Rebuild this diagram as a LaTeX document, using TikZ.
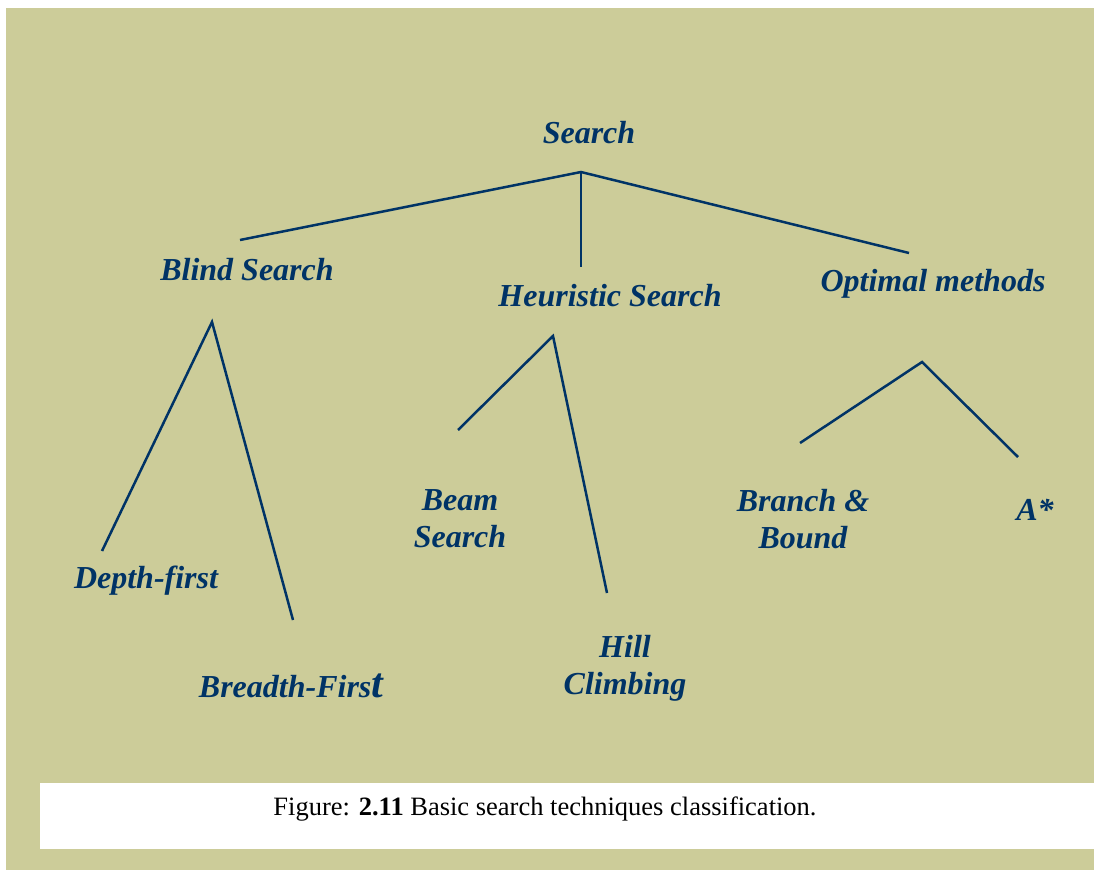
\documentclass[tikz,border=0pt]{standalone}
\usepackage{fontspec}
\setmainfont{Liberation Serif}
\definecolor{panel}{RGB}{204,204,153}
\definecolor{ink}{RGB}{0,51,102}
\begin{document}
\begin{tikzpicture}[x=1pt,y=-1pt,
  lbl/.style={text=ink,font=\bfseries\itshape\fontsize{32}{37}\selectfont,align=center,inner sep=0pt},
  branch/.style={draw=ink,line width=2.5pt},
  capt/.style={text=black,font=\fontsize{26.5}{30}\selectfont,inner sep=0pt}]
  % page, panel and caption strip
  \useasboundingbox (0,0) rectangle (1094,870);
  \fill[white] (0,0) rectangle (1094,870);
  \fill[panel] (6,8) rectangle (1094,870);
  \fill[white] (40,783) rectangle (1094,849);

  % labels
  \node[lbl] (search) at (589,133) {Search};
  \node[lbl] (blind) at (247,270) {Blind Search};
  \node[lbl] (heur) at (610,296) {Heuristic Search};
  \node[lbl] (optim) at (933,284) {Optimal methods};
  \node[lbl] (depth) at (146,581) {Depth-first};
  \node[lbl] (breadth) at (291,686) {Breadth-Firs{\fontsize{42}{42}\selectfont t}};
  \node[lbl] (beam) at (460,519) {Beam\\Search};
  \node[lbl] (hill) at (625,668) {Hill\\Climbing};
  \node[lbl] (bb) at (803,519) {Branch \&\\Bound};
  \node[lbl] (astar) at (1035,510) {A*};
  \node[capt] (caption) at (545,809) {Figure: \textbf{2.11} Basic search techniques classification.};

  % branch points and free ends
  \coordinate (rootfork) at (581,172);
  \coordinate (toblind) at (240,240);
  \coordinate (toheur) at (581,267);
  \coordinate (tooptim) at (909,253);
  \coordinate (blindfork) at (212,322);
  \coordinate (todepth) at (102,551);
  \coordinate (tobreadth) at (293,620);
  \coordinate (heurfork) at (553,336);
  \coordinate (tobeam) at (458,430);
  \coordinate (tohill) at (607,593);
  \coordinate (optimfork) at (922,362);
  \coordinate (tobb) at (800,443);
  \coordinate (toastar) at (1018,457);

  % tree branches
  \draw[branch] (toblind) -- (rootfork) -- (tooptim);
  \draw[branch] (rootfork) -- (toheur);
  \draw[branch] (todepth) -- (blindfork) -- (tobreadth);
  \draw[branch] (tobeam) -- (heurfork) -- (tohill);
  \draw[branch] (tobb) -- (optimfork) -- (toastar);
\end{tikzpicture}
\end{document}
